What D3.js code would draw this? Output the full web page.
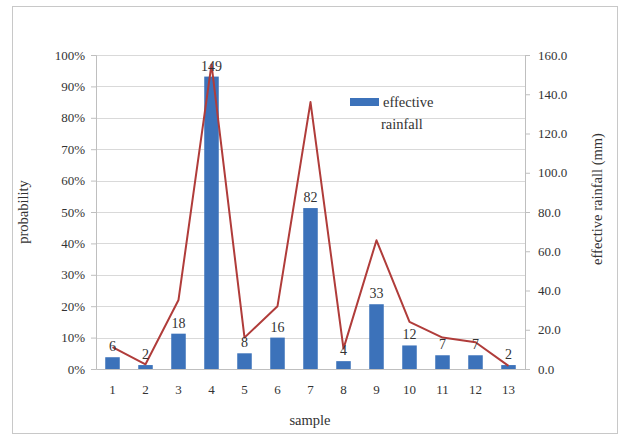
<!DOCTYPE html>
<html>
<head>
<meta charset="utf-8">
<script src="https://cdn.jsdelivr.net/npm/d3@7"></script>
<style>
  html, body { margin: 0; padding: 0; background: #fff; }
  svg text { font-family: "Liberation Serif", "DejaVu Serif", serif; fill: #333; }
</style>
</head>
<body>
<svg id="chart" width="623" height="440"></svg>
<script>
// Samples along the x axis
const samples = ["1","2","3","4","5","6","7","8","9","10","11","12","13"];
// Effective rainfall per sample (mm), drawn as bars on the right axis
const rainfall = [6, 2, 18, 149, 8, 16, 82, 4, 33, 12, 7, 7, 2];
// Probability per sample, drawn as a line on the left axis
const probability = [0.07, 0.015, 0.22, 0.97, 0.10, 0.20, 0.85, 0.065, 0.41, 0.15, 0.10, 0.085, 0.01];
// Tick values
const probTicks = [0, 0.1, 0.2, 0.3, 0.4, 0.5, 0.6, 0.7, 0.8, 0.9, 1.0];
const rainTicks = [0, 20, 40, 60, 80, 100, 120, 140, 160];

const svg = d3.select("#chart");
const plotLeft = 96, plotRight = 525, plotTop = 55, plotBottom = 369;

// outer frame
svg.append("rect")
  .attr("x", 12.5).attr("y", 6.5).attr("width", 605).attr("height", 427)
  .attr("fill", "none").attr("stroke", "#c8c8c8");

const x = d3.scaleBand().domain(samples).range([plotLeft, plotRight]).paddingInner(0.56).paddingOuter(0.28);
const yL = d3.scaleLinear().domain([0, 1]).range([plotBottom, plotTop]);
const yR = d3.scaleLinear().domain([0, 160]).range([plotBottom, plotTop]);

// horizontal gridlines
svg.append("g").selectAll("line").data(probTicks.slice(1)).join("line")
  .attr("x1", plotLeft).attr("x2", plotRight)
  .attr("y1", d => Math.round(yL(d)) + 0.5).attr("y2", d => Math.round(yL(d)) + 0.5)
  .attr("stroke", "#d9d9d9").attr("stroke-width", 1);

// left axis
const axL = svg.append("g").attr("transform", `translate(${plotLeft},0)`)
  .call(d3.axisLeft(yL).tickValues(probTicks).tickFormat(d3.format(".0%")).tickSize(5).tickPadding(6));
// right axis
const axR = svg.append("g").attr("transform", `translate(${plotRight},0)`)
  .call(d3.axisRight(yR).tickValues(rainTicks).tickFormat(d3.format(".1f")).tickSize(5).tickPadding(8));
// bottom axis
const axB = svg.append("g").attr("transform", `translate(0,${plotBottom})`)
  .call(d3.axisBottom(x).tickSize(0).tickPadding(16));

[axL, axR, axB].forEach(g => {
  g.selectAll("path").attr("stroke", "#bfbfbf");
  g.selectAll("line").attr("stroke", "#bfbfbf");
  g.selectAll("text").attr("font-size", 13).attr("fill", "#444")
    .attr("font-family", "Liberation Serif, serif");
});

// bars
svg.append("g").selectAll("rect").data(rainfall).join("rect")
  .attr("x", (d, i) => x(samples[i]))
  .attr("width", x.bandwidth())
  .attr("y", d => yR(d))
  .attr("height", d => plotBottom - yR(d))
  .attr("fill", "#3c72ba");

// probability line
const line = d3.line()
  .x((d, i) => x(samples[i]) + x.bandwidth() / 2)
  .y(d => yL(d));
svg.append("path").datum(probability)
  .attr("d", line)
  .attr("fill", "none")
  .attr("stroke", "#b03c3a")
  .attr("stroke-width", 2)
  .attr("stroke-linejoin", "round");

// bar value labels
svg.append("g").selectAll("text").data(rainfall).join("text")
  .attr("x", (d, i) => x(samples[i]) + x.bandwidth() / 2)
  .attr("y", d => yR(d) - 6)
  .attr("text-anchor", "middle")
  .attr("font-size", 14)
  .attr("fill", "#333")
  .text(d => d);

// legend
svg.append("rect").attr("x", 350).attr("y", 98).attr("width", 29).attr("height", 8).attr("fill", "#3c72ba");
svg.append("text").attr("x", 383).attr("y", 107).attr("font-size", 14.5).text("effective");
svg.append("text").attr("x", 381).attr("y", 129).attr("font-size", 14.5).text("rainfall");

// axis titles
svg.append("text")
  .attr("transform", "translate(28,212) rotate(-90)")
  .attr("text-anchor", "middle").attr("font-size", 14.5).text("probability");
svg.append("text")
  .attr("transform", "translate(602,199) rotate(-90)")
  .attr("text-anchor", "middle").attr("font-size", 14.5).text("effective rainfall (mm)");
svg.append("text")
  .attr("x", 310).attr("y", 425)
  .attr("text-anchor", "middle").attr("font-size", 14.5).text("sample");
</script>
</body>
</html>
